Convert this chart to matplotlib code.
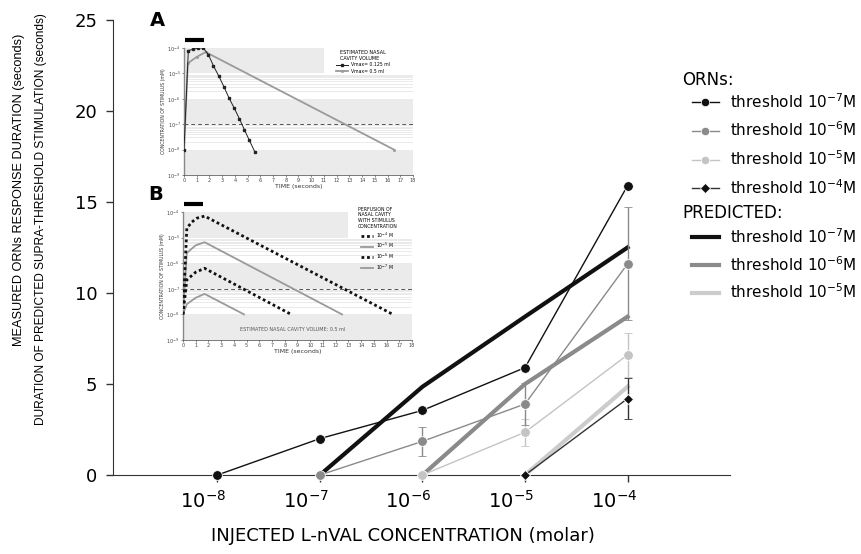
#!/usr/bin/env python3
# plot.py - ORN response duration vs injected L-nVAL concentration, with model insets

import numpy as np
import matplotlib
matplotlib.use("Agg")
import matplotlib.pyplot as plt
from matplotlib.lines import Line2D
from matplotlib.transforms import ScaledTranslation

# -------------------------------
# Main panel data (molar, seconds)
# -------------------------------
conc = [1e-8, 1e-7, 1e-6, 1e-5, 1e-4]
tick_labels = [r"$10^{-8}$", r"$10^{-7}$", r"$10^{-6}$", r"$10^{-5}$", r"$10^{-4}$"]

orn7_x = [1e-8, 1e-7, 1e-6, 1e-5, 1e-4]
orn7_y = [0.0, 2.0, 3.55, 5.9, 15.9]

orn6_x = [1e-7, 1e-6, 1e-5, 1e-4]
orn6_y = [0.0, 1.85, 3.9, 11.6]
orn6_err = [0.0, 0.8, 1.15, 3.1]

orn5_x = [1e-6, 1e-5, 1e-4]
orn5_y = [0.0, 2.35, 6.6]
orn5_err = [0.0, 0.75, 1.2]

orn4_x = [1e-5, 1e-4]
orn4_y = [0.0, 4.2]
orn4_err = [0.0, 1.15]

pred7_x = [1e-7, 1e-6, 1e-5, 1e-4]
pred7_y = [0.0, 4.85, 8.7, 12.5]
pred6_x = [1e-6, 1e-5, 1e-4]
pred6_y = [0.0, 5.0, 8.7]
pred5_x = [1e-5, 1e-4]
pred5_y = [0.0, 4.85]

# -------------------------------
# Inset data (time in s, log10 concentration)
# -------------------------------
a_small_t = [0, 0.34, 0.73, 1.13, 1.52, 1.92, 2.31, 2.75, 3.15, 3.54, 3.96, 4.36, 4.75, 5.14, 5.56]
a_small_log = [-8.0, -4.1, -4.05, -4.0, -4.0, -4.26, -4.7, -5.12, -5.54, -5.97, -6.38, -6.79, -7.22, -7.64, -8.08]
a_big_t = [0, 0.3, 1.0, 1.7, 16.5]
a_big_log = [-8.0, -4.6, -4.35, -4.16, -8.0]

b1_t = [0, 0.3, 0.7, 1.1, 1.7, 16.5]
b1_log = [-8.0, -4.63, -4.39, -4.24, -4.16, -8.0]
b2_t = [0, 0.3, 1.0, 1.7, 12.5]
b2_log = [-8.0, -5.6, -5.3, -5.18, -8.0]
b3_t = [0, 0.3, 1.0, 1.7, 8.5]
b3_log = [-8.0, -6.65, -6.35, -6.2, -8.0]
b4_t = [0, 0.3, 1.0, 1.7, 4.8]
b4_log = [-8.0, -7.6, -7.35, -7.2, -8.0]

inset_yticks = [-9, -8, -7, -6, -5, -4]
threshold_log = -7

C_BLACK = "#111111"
C_GRAY = "#8a8a8a"
C_LIGHT = "#c4c4c4"

fig = plt.figure(figsize=(8.61, 5.54), dpi=100)
ax = fig.add_axes([0.131, 0.1426, 0.717, 0.8214])

# predicted (thick)
ax.plot(pred7_x, pred7_y, color=C_BLACK, lw=3.0, zorder=2)
ax.plot(pred6_x, pred6_y, color=C_GRAY, lw=3.0, zorder=2)
ax.plot(pred5_x, pred5_y, color="#cccccc", lw=3.0, zorder=2)

# measured ORNs
ax.errorbar(orn4_x, orn4_y, yerr=orn4_err, color="#333333", lw=1.0, marker="D", ms=5.5,
            mfc=C_BLACK, mec="white", mew=0.6, capsize=3, elinewidth=1, zorder=4, clip_on=False)
ax.errorbar(orn5_x, orn5_y, yerr=orn5_err, color=C_LIGHT, lw=1.0, marker="o", ms=7,
            mec="white", mew=0.6, capsize=3, elinewidth=1, zorder=4, clip_on=False)
ax.errorbar(orn6_x, orn6_y, yerr=orn6_err, color=C_GRAY, lw=1.0, marker="o", ms=7,
            mec="white", mew=0.6, capsize=3, elinewidth=1, zorder=4, clip_on=False)
ax.plot(orn7_x, orn7_y, color=C_BLACK, lw=1.0, marker="o", ms=7, mec="white", mew=0.6,
        zorder=5, clip_on=False)

ax.set_xscale("log")
ax.set_xlim(10**-9.02, 1e-3)
ax.set_ylim(0, 25)
ax.set_xticks(conc)
ax.set_xticklabels(tick_labels, fontsize=14)
ax.xaxis.set_minor_locator(matplotlib.ticker.NullLocator())
ax.set_yticks([0, 5, 10, 15, 20, 25])
ax.tick_params(axis="y", labelsize=13, length=5, width=1, color="#333333", pad=6)
ax.tick_params(axis="x", length=5, width=1, color="#333333", pad=6)
for lab in ax.get_xticklabels():
    lab.set_transform(lab.get_transform() + ScaledTranslation(-10 / 72, 0, fig.dpi_scale_trans))
for side in ["top", "right"]:
    ax.spines[side].set_visible(False)
for side in ["left", "bottom"]:
    ax.spines[side].set_color("#333333")
ax.set_xlabel("INJECTED L-nVAL CONCENTRATION (molar)", fontsize=13, labelpad=10)
ax.xaxis.set_label_coords(0.47, -0.115)

ylab_font = ["Liberation Sans", "DejaVu Sans"]
fig.text(19 / 861, 1 - 190 / 554, "MEASURED ORNs RESPONSE DURATION (seconds)",
         rotation=90, ha="center", va="center", fontsize=9.2, family=ylab_font)
fig.text(41 / 861, 1 - 219 / 554, "DURATION OF PREDICTED SUPRA-THRESHOLD STIMULATION (seconds)",
         rotation=90, ha="center", va="center", fontsize=8.6, family=ylab_font)

# legends
orn_handles = [
    Line2D([], [], color=C_BLACK, lw=1, marker="o", ms=6, mec="white", mew=0.5),
    Line2D([], [], color=C_GRAY, lw=1, marker="o", ms=6, mec="white", mew=0.5),
    Line2D([], [], color=C_LIGHT, lw=1, marker="o", ms=6, mec="white", mew=0.5),
    Line2D([], [], color="#333333", lw=1, marker="D", ms=5, mfc=C_BLACK, mec="white", mew=0.5),
]
orn_labels = [r"threshold 10$^{-7}$M", r"threshold 10$^{-6}$M",
              r"threshold 10$^{-5}$M", r"threshold 10$^{-4}$M"]
pred_handles = [
    Line2D([], [], color=C_BLACK, lw=3),
    Line2D([], [], color=C_GRAY, lw=3),
    Line2D([], [], color="#cccccc", lw=3),
]
pred_labels = orn_labels[:3]

fig.text(682 / 861, 1 - 80 / 554, "ORNs:", fontsize=12, va="center", ha="left")
fig.text(682 / 861, 1 - 213 / 554, "PREDICTED:", fontsize=12, va="center", ha="left")
leg1 = fig.legend(orn_handles, orn_labels, loc="upper left",
                  bbox_to_anchor=(692 / 861, 1 - 92 / 554), frameon=False, fontsize=11,
                  borderpad=0, borderaxespad=0,
                  handlelength=1.75, handletextpad=0.75, labelspacing=0.65)
leg2 = fig.legend(pred_handles, pred_labels, loc="upper left",
                  bbox_to_anchor=(692 / 861, 1 - 227 / 554), frameon=False, fontsize=11,
                  borderpad=0, borderaxespad=0,
                  handlelength=1.75, handletextpad=0.75, labelspacing=0.6)


# -------------------------------
# Insets A and B
# -------------------------------
def setup_inset(iax, band_xmax):
    iax.set_xlim(0, 18)
    iax.set_ylim(-9, -4)
    for k, (lo, hi) in enumerate([(-5, -4), (-7, -6), (-9, -8)]):
        iax.axhspan(lo, hi, xmin=0, xmax=band_xmax if k == 0 else 1, color="#ebebeb", lw=0, zorder=0)
    for dec in [-6, -8]:
        for sub in range(2, 10):
            iax.axhline(dec + np.log10(sub), color="#e2e2e2", lw=0.5, zorder=0)
    iax.axhline(threshold_log, color="#555555", lw=0.7, ls=(0, (4, 3)), zorder=1)
    iax.set_xticks(range(0, 19))
    iax.set_yticks(inset_yticks)
    iax.set_yticklabels([rf"$10^{{{v}}}$" for v in inset_yticks])
    iax.tick_params(labelsize=3.5, length=1.5, width=0.5, pad=1, color="#555555", labelcolor="#444444")
    for side in ["top", "right"]:
        iax.spines[side].set_visible(False)
    iax.spines["left"].set_color("#888888")
    iax.spines["left"].set_linewidth(1.0)
    iax.spines["bottom"].set_color("#444444")
    iax.spines["bottom"].set_linewidth(0.5)
    iax.set_xlabel("TIME (seconds)", fontsize=4.5, labelpad=0.5, color="#333333")
    iax.set_ylabel("CONCENTRATION OF STIMULUS (mM)", fontsize=3.3, labelpad=1, color="#333333")
    # stimulus bar
    iax.plot([0.1, 1.55], [-3.68, -3.68], color="black", lw=3, solid_capstyle="butt", clip_on=False)


axA = fig.add_axes([184 / 861, 1 - 175 / 554, 229 / 861, 127 / 554])
setup_inset(axA, 11 / 18)
axA.plot(a_big_t, a_big_log, color="#9a9a9a", lw=1.3, marker="s", ms=1.0, zorder=3,
         label="Vmax= 0.5 ml")
axA.plot(a_small_t, a_small_log, color="#222222", lw=0.7, marker="s", ms=1.8, zorder=4,
         label="Vmax= 0.125 ml")
hA, lA = axA.get_legend_handles_labels()
axA.legend(hA[::-1], lA[::-1], title="ESTIMATED NASAL\nCAVITY VOLUME", loc="upper center",
           bbox_to_anchor=(14.1 / 18, 1.0), frameon=False, fontsize=3.3, title_fontsize=3.5,
           handlelength=2.5, borderpad=0, labelspacing=0.3)
fig.text(150 / 861, 1 - 20 / 554, "A", fontsize=14, fontweight="bold", va="center", ha="left")

axB = fig.add_axes([183 / 861, 1 - 340 / 554, 229 / 861, 128 / 554])
setup_inset(axB, 13 / 18)
axB.plot(b1_t, b1_log, color="#111111", lw=2.0, ls=(0, (1, 1)), zorder=4, label=r"10$^{-4}$ M")
axB.plot(b2_t, b2_log, color="#9a9a9a", lw=1.3, zorder=3, label=r"10$^{-5}$ M")
axB.plot(b3_t, b3_log, color="#111111", lw=2.0, ls=(0, (1, 1)), zorder=4, label=r"10$^{-6}$ M")
axB.plot(b4_t, b4_log, color="#9a9a9a", lw=1.3, zorder=3, label=r"10$^{-7}$ M")
axB.legend(title="PERFUSION OF\nNASAL CAVITY\nWITH STIMULUS\nCONCENTRATION", loc="upper center",
           bbox_to_anchor=(15.3 / 18, 1.06), frameon=False, fontsize=3.3, title_fontsize=3.3,
           handlelength=2.5, borderpad=0, labelspacing=0.3)
axB.text(8.65, -8.6, "ESTIMATED NASAL CAVITY VOLUME: 0.5 ml", fontsize=3.5, ha="center",
         va="center", color="#555555")
fig.text(148 / 861, 1 - 195 / 554, "B", fontsize=14, fontweight="bold", va="center", ha="left")

fig.savefig("out.png", dpi=100)
